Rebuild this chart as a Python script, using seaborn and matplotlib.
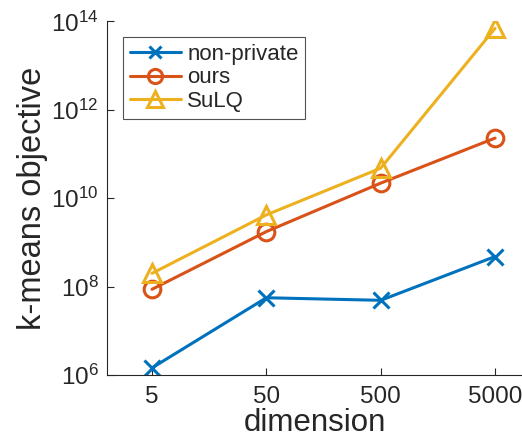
import matplotlib
matplotlib.use("Agg")
import matplotlib.pyplot as plt
import matplotlib.ticker as mticker
import seaborn as sns
import pandas as pd

dimension = [5, 50, 500, 5000]
non_private = [1.45e6, 5.6e7, 4.9e7, 4.8e8]
ours = [8.7e7, 1.76e9, 2.2e10, 2.3e11]
sulq = [2.0e8, 4.2e9, 4.8e10, 7.0e13]
series_names = ["non-private", "ours", "SuLQ"]
x_ticks = [5, 50, 500, 5000]
x_tick_labels = ["5", "50", "500", "5000"]
y_ticks = [1e6, 1e8, 1e10, 1e12, 1e14]

sns.set_theme(style="white")
plt.rcParams["font.family"] = ["Liberation Sans", "DejaVu Sans"]
plt.rcParams["mathtext.fontset"] = "custom"
plt.rcParams["mathtext.rm"] = "Liberation Sans"

fig = plt.figure(figsize=(5.22, 4.40), dpi=100)
ax = fig.add_axes([107 / 522, 1 - 375 / 440, 1 - 107 / 522, (375 - 21.5) / 440])

colors = ["#0072BD", "#D95319", "#EDB120"]
markers = ["x", "o", "^"]
msizes = [11, 12, 13]
for name, vals, c, m, ms in zip(series_names, [non_private, ours, sulq], colors, markers, msizes):
    df = pd.DataFrame({"dimension": dimension, "value": vals})
    sns.lineplot(data=df, x="dimension", y="value", ax=ax, color=c, marker=m,
                 markersize=ms, markeredgecolor=c, markerfacecolor="none",
                 markeredgewidth=2.2, linewidth=2.2, label=name)

ax.set_xscale("log")
ax.set_yscale("log")
ax.set_xlim(2.02, 8600)
ax.set_ylim(1e6, 1e14)
ax.set_xticks(x_ticks)
ax.set_xticklabels(x_tick_labels)
ax.set_yticks(y_ticks)
ax.xaxis.set_minor_locator(mticker.NullLocator())
ax.yaxis.set_minor_locator(mticker.NullLocator())

for s in ["top", "right"]:
    ax.spines[s].set_visible(False)
for s in ["left", "bottom"]:
    ax.spines[s].set_color("#262626")
    ax.spines[s].set_linewidth(0.8)

ax.tick_params(axis="both", direction="in", length=5, width=0.8, colors="#262626",
               labelsize=17.5, labelcolor="#262626", left=True, bottom=True)
ax.tick_params(axis="x", pad=8)
ax.tick_params(axis="y", pad=6)

ax.set_xlabel("dimension", fontsize=22.5, color="#262626", labelpad=0)
ax.set_ylabel("k-means objective", fontsize=23.5, color="#262626", labelpad=2)

leg = ax.legend(loc="upper left", bbox_to_anchor=((123 - 107) / 415, 1 - (37 - 21.5) / 353.5),
                fontsize=16, frameon=True, fancybox=False, borderpad=0.3,
                handlelength=2.3, handletextpad=0.3, labelspacing=0.12, borderaxespad=0,
                markerscale=0.85)
leg.get_frame().set_edgecolor("#262626")
leg.get_frame().set_linewidth(0.8)

fig.savefig("out.png", dpi=100)
